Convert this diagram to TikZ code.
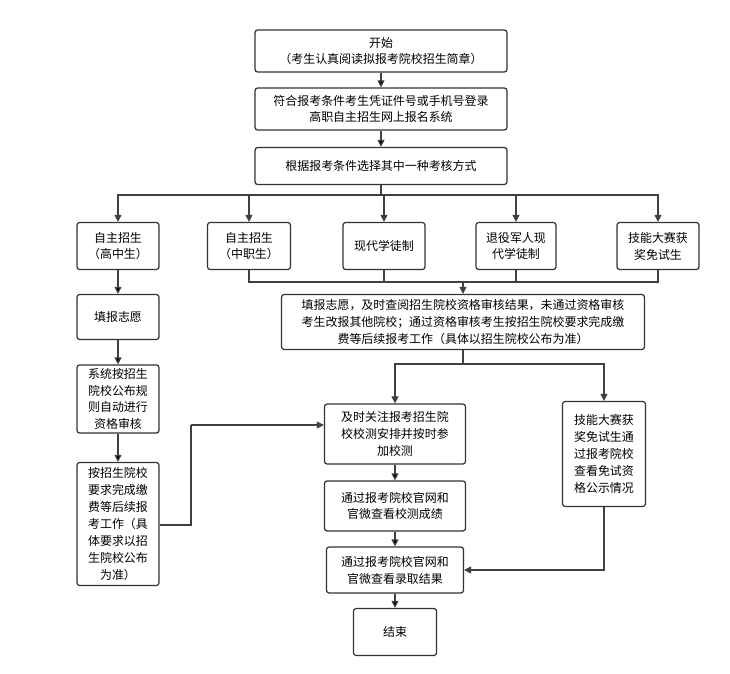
\documentclass[tikz,border=0pt]{standalone}
\usepackage{fontspec}
\setmainfont{Noto Sans CJK SC}
\usepackage{tikz}
\usetikzlibrary{arrows.meta, positioning}

\tikzset{
    box/.style = {draw=black!80, rounded corners=1.5pt, line width=0.7pt, align=center,
                  font=\fontsize{6.8}{9.6}\selectfont, inner sep=1pt},
    flow/.style = {-{Triangle[length=4pt,width=4pt]}, line width=0.7pt, draw=black!75},
    link/.style = {line width=0.7pt, draw=black!75}
}

\begin{document}
\begin{tikzpicture}[x=0.02cm, y=-0.02cm]
    \useasboundingbox (0,0) rectangle (730,673);

    \node (start)  [box, minimum width=5.04cm, minimum height=0.84cm] at (381,51)  {开始\\（考生认真阅读拟报考院校招生简章）};
    \node (login)  [box, minimum width=5.04cm, minimum height=0.84cm] at (381,109) {符合报考条件考生凭证件号或手机号登录\\高职自主招生网上报名系统};
    \node (choose) [box, minimum width=5.04cm, minimum height=0.74cm] at (381,166) {根据报考条件选择其中一种考核方式};

    \node (high)   [box, minimum width=1.64cm, minimum height=0.94cm] at (118,246) {自主招生\\（高中生）};
    \node (voc)    [box, minimum width=1.66cm, minimum height=0.94cm] at (249,246) {自主招生\\（中职生）};
    \node (modern) [box, minimum width=1.64cm, minimum height=0.94cm] at (384,246) {现代学徒制};
    \node (army)   [box, minimum width=1.60cm, minimum height=0.94cm] at (516,246) {退役军人现\\代学徒制};
    \node (skill)  [box, minimum width=1.64cm, minimum height=0.94cm] at (658,246) {技能大赛获\\奖免试生};

    \node (apply)  [box, minimum width=7.26cm, minimum height=1.10cm] at (463,322) {填报志愿，及时查阅招生院校资格审核结果，未通过资格审核\\考生改报其他院校；通过资格审核考生按招生院校要求完成缴\\费等后续报考工作（具体以招生院校公布为准）};

    \node (wish)   [box, minimum width=1.64cm, minimum height=0.90cm] at (118,317) {填报志愿};
    \node (check)  [box, minimum width=1.64cm, minimum height=1.36cm] at (118,399) {系统按招生\\院校公布规\\则自动进行\\资格审核};
    \node (pay)    [box, minimum width=1.64cm, minimum height=2.46cm] at (118,524) {按招生院校\\要求完成缴\\费等后续报\\考工作（具\\体要求以招\\生院校公布\\为准）};

    \node (test)   [box, minimum width=2.82cm, minimum height=1.20cm] at (395,434) {及时关注报考招生院\\校校测安排并按时参\\加校测};
    \node (score)  [box, minimum width=2.82cm, minimum height=1.00cm] at (395,506) {通过报考院校官网和\\官微查看校测成绩};
    \node (admit)  [box, minimum width=2.74cm, minimum height=0.92cm] at (395,570) {通过报考院校官网和\\官微查看录取结果};
    \node (finish) [box, minimum width=1.66cm, minimum height=0.94cm] at (395,632) {结束};
    \node (exempt) [box, minimum width=1.66cm, minimum height=2.10cm] at (604,454) {技能大赛获\\奖免试生通\\过报考院校\\查看免试资\\格公示情况};

    \coordinate (split) at (381,195);
    \coordinate (merge) at (463,282);
    \coordinate (fork)  at (463,364);
    \coordinate (jump)  at (191,425);

\path [flow]
    (start) edge (login)
    (login) edge (choose)
    (high)  edge (wish)
    (wish)  edge (check)
    (check) edge (pay)
    (test)  edge (score)
    (score) edge (admit)
    (admit) edge (finish);

    \draw [link] (choose) -- (split);
    \draw [flow] (split) -| (high);
    \draw [flow] (split) -| (voc);
    \draw [flow] (split) -| (modern);
    \draw [flow] (split) -| (army);
    \draw [flow] (split) -| (skill);

    \draw [link] (voc) |- (merge);
    \draw [link] (modern) |- (merge);
    \draw [link] (army) |- (merge);
    \draw [link] (skill) |- (merge);
    \draw [flow] (merge) -- (apply);

    \draw [link] (apply) -- (fork);
    \draw [flow] (fork) -| (test);
    \draw [flow] (fork) -| (exempt);

    \draw [link] (pay.east |- 0,525) -| (jump);
    \draw [flow] (jump) -- (test.west |- jump);
    \draw [flow] (exempt) |- (admit);
\end{tikzpicture}
\end{document}
